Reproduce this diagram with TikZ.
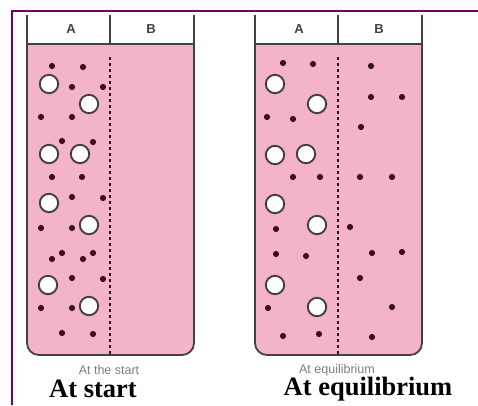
\documentclass[tikz,border=0pt]{standalone}
\usepackage{fontspec}
\setmainfont{Liberation Serif}
\newfontfamily\capsans{Liberation Sans}
\definecolor{pinkc}{RGB}{243,180,202}
\definecolor{edgec}{RGB}{70,62,66}
\definecolor{dotc}{RGB}{58,12,34}
\definecolor{framec}{RGB}{112,0,112}
\definecolor{smallc}{RGB}{125,125,125}
\tikzset{
  tubeline/.style={draw=edgec,line width=1.8pt},
  membrane/.style={draw=dotc,line width=2.2pt,dash pattern=on 2.6pt off 3.4pt},
  bigmol/.style={draw=edgec,fill=white,line width=1.9pt},
  smallmol/.style={fill=dotc},
  smallcap/.style={font=\capsans\fontsize{12.5}{13}\selectfont,text=smallc},
  bigcap/.style={font=\bfseries\fontsize{26.5}{27}\selectfont,text=black},
  hdr/.style={font=\capsans\bfseries\fontsize{13}{13}\selectfont,text=edgec}
}
\begin{document}
\begin{tikzpicture}[x=1pt,y=-1pt]
\useasboundingbox (0,0) rectangle (478,405);
\fill[white] (0,0) rectangle (478,405);
% frame
\draw[framec,line width=2pt] (12,405) -- (12,11) -- (478,11);
% tubes
\foreach \dx/\nm in {0/l,228/r}{
  \begin{scope}[xshift=\dx]
    \fill[pinkc,rounded corners=12] (27,30) -- (27,355) -- (194,355) -- (194,30) -- cycle;
    \fill[white] (27,14) rectangle (194,44);
    \draw[tubeline,rounded corners=12] (27,15) -- (27,355) -- (194,355) -- (194,15);
    \draw[tubeline] (27,44) -- (194,44);
    \draw[tubeline] (110,15) -- (110,45);
    \draw[membrane] (110,57) -- (110,355);
    \node[hdr] (\nm A) at (71,29) {A};
    \node[hdr] (\nm B) at (151,29) {B};
  \end{scope}
}
% small molecules (dots)
\foreach \x/\y in {52/66,83/67,72/87,103/87,41/117,72/117,62/141,93/142,52/177,82/177,
  72/197,103/198,41/228,72/228,62/253,52/259,93/253,83/259,72/278,103/279,41/308,72/308,62/333,93/334,
  283/63,313/64,371/66,371/97,402/97,267/117,293/119,361/127,293/177,320/177,360/177,392/177,
  276/229,350/227,276/254,306/256,372/253,402/252,360/278,268/308,392/307,283/336,319/334,372/337}
  \fill[smallmol] (\x,\y) circle (3.1);
% large molecules (open circles)
\foreach \x/\y in {49/84,89/104,49/154,80/154,49/203,89/225,48/285,89/306,
  275/84,317/104,275/155,306/154,275/204,317/225,275/285,317/307}
  \draw[bigmol] (\x,\y) circle (9.2);
% captions
\node[smallcap] (s1) at (109,370) {At the start};
\node[smallcap] (s2) at (337,370) {At equilibrium};
\node[bigcap] (c1) at (93,389) {At start};
\node[bigcap] (c2) at (368,389) {At equilibrium};
\end{tikzpicture}
\end{document}
